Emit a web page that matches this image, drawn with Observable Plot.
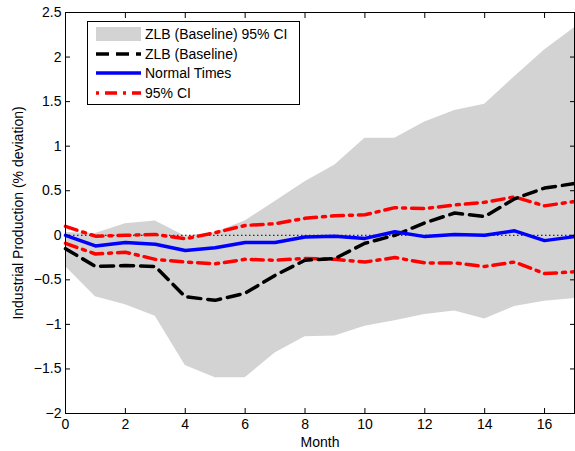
<!DOCTYPE html>
<html>
<head>
<meta charset="utf-8">
<script src="https://cdn.jsdelivr.net/npm/d3@7"></script>
<script src="https://cdn.jsdelivr.net/npm/@observablehq/plot@0.6"></script>
<style>
  body { margin: 0; background: #fff; font-family: "Liberation Sans", Arial, Helvetica, sans-serif; }
  #wrap { position: relative; width: 575px; height: 451px; }
  #legend { position: absolute; left: 87px; top: 21px; width: 211px; height: 82px; background: #fff; border: 1px solid #000; font-size: 14px; }
  .row { position: absolute; left: 8px; height: 19px; display: flex; align-items: center; }
  .row span { margin-left: 4px; white-space: nowrap; }
</style>
</head>
<body>
<div id="wrap"></div>
<script>
const months = [0,1,2,3,4,5,6,7,8,9,10,11,12,13,14,15,16,17];
const ciHi = [0.03, 0.02, 0.13, 0.16, -0.01, 0.03, 0.16, 0.38, 0.60, 0.79, 1.09, 1.09, 1.27, 1.40, 1.47, 1.78, 2.08, 2.33];
const ciLo = [-0.35, -0.69, -0.78, -0.91, -1.46, -1.60, -1.60, -1.32, -1.14, -1.13, -1.02, -0.96, -0.89, -0.85, -0.94, -0.80, -0.74, -0.71];
const zlb = [-0.15, -0.35, -0.34, -0.35, -0.69, -0.73, -0.65, -0.45, -0.28, -0.26, -0.09, 0.0, 0.14, 0.25, 0.21, 0.41, 0.53, 0.58];
const normal = [0.0, -0.12, -0.08, -0.10, -0.17, -0.14, -0.08, -0.08, -0.02, -0.01, -0.035, 0.04, -0.015, 0.01, 0.0, 0.05, -0.06, -0.015];
const redUp = [0.10, -0.01, 0.00, 0.01, -0.04, 0.03, 0.11, 0.13, 0.19, 0.22, 0.23, 0.31, 0.30, 0.34, 0.37, 0.43, 0.33, 0.38];
const redLo = [-0.09, -0.21, -0.19, -0.27, -0.30, -0.32, -0.27, -0.28, -0.26, -0.27, -0.30, -0.25, -0.31, -0.31, -0.35, -0.30, -0.43, -0.41];
const xTicks = [0,2,4,6,8,10,12,14,16];
const yTicks = [-2,-1.5,-1,-0.5,0,0.5,1,1.5,2,2.5];
const legendLabels = ["ZLB (Baseline) 95% CI", "ZLB (Baseline)", "Normal Times", "95% CI"];
const xLabel = "Month";
const yLabel = "Industrial Production (% deviation)";

const rows = months.map((m, i) => ({m, hi: ciHi[i], lo: ciLo[i], zlb: zlb[i], normal: normal[i], up: redUp[i], dn: redLo[i]}));
const fmt = d3.format("~g");

const chart = Plot.plot({
  width: 575, height: 451,
  marginLeft: 65, marginRight: 1, marginTop: 12, marginBottom: 38,
  style: {fontFamily: '"Liberation Sans", Arial, Helvetica, sans-serif', fontSize: "14px", color: "#000", background: "#fff"},
  x: {domain: [0, 17]},
  y: {domain: [-2, 2.5]},
  marks: [
    Plot.areaY(rows, {x: "m", y1: "lo", y2: "hi", fill: "#d3d3d3", fillOpacity: 1}),
    Plot.ruleY([0], {stroke: "#000", strokeWidth: 1, strokeDasharray: "1.5,2.5"}),
    Plot.lineY(rows, {x: "m", y: "up", stroke: "#ff0000", strokeWidth: 3.5, strokeDasharray: "12,6,3,6"}),
    Plot.lineY(rows, {x: "m", y: "dn", stroke: "#ff0000", strokeWidth: 3.5, strokeDasharray: "12,6,3,6"}),
    Plot.lineY(rows, {x: "m", y: "zlb", stroke: "#000", strokeWidth: 3.5, strokeDasharray: "13,7"}),
    Plot.lineY(rows, {x: "m", y: "normal", stroke: "#0000ff", strokeWidth: 3.5}),
    Plot.axisX(xTicks, {anchor: "bottom", tickSize: -5, tickPadding: 11, tickFormat: fmt, label: null, fontSize: 14}),
    Plot.axisX(xTicks, {anchor: "top", tickSize: -5, tickFormat: () => "", label: null}),
    Plot.axisY(yTicks, {anchor: "left", tickSize: -5, tickPadding: 9, tickFormat: fmt, label: null, fontSize: 14}),
    Plot.axisY(yTicks, {anchor: "right", tickSize: -5, tickFormat: () => "", label: null}),
    Plot.frame({stroke: "#000", strokeWidth: 1}),
    Plot.text([xLabel], {frameAnchor: "bottom", dy: 29, fontSize: 14, lineAnchor: "middle"}),
    Plot.text([yLabel], {frameAnchor: "left", dx: -47, rotate: -90, textAnchor: "middle", lineAnchor: "middle", fontSize: 14})
  ]
});

const wrap = document.getElementById("wrap");
wrap.appendChild(chart);

const legend = document.createElement("div");
legend.id = "legend";
const swatches = [
  `<svg width="45" height="14"><rect x="0" y="0" width="45" height="14" fill="#d3d3d3"/></svg>`,
  `<svg width="45" height="14"><line x1="0" y1="7" x2="45" y2="7" stroke="#000" stroke-width="3.5" stroke-dasharray="13,7"/></svg>`,
  `<svg width="45" height="14"><line x1="0" y1="7" x2="45" y2="7" stroke="#0000ff" stroke-width="3.5"/></svg>`,
  `<svg width="45" height="14"><line x1="0" y1="7" x2="45" y2="7" stroke="#ff0000" stroke-width="3.5" stroke-dasharray="3,6,12,6"/></svg>`
];
legendLabels.forEach((lab, i) => {
  const r = document.createElement("div");
  r.className = "row";
  r.style.top = (2.5 + i * 19.5) + "px";
  r.innerHTML = swatches[i] + `<span>${lab}</span>`;
  legend.appendChild(r);
});
wrap.appendChild(legend);
</script>
</body>
</html>
